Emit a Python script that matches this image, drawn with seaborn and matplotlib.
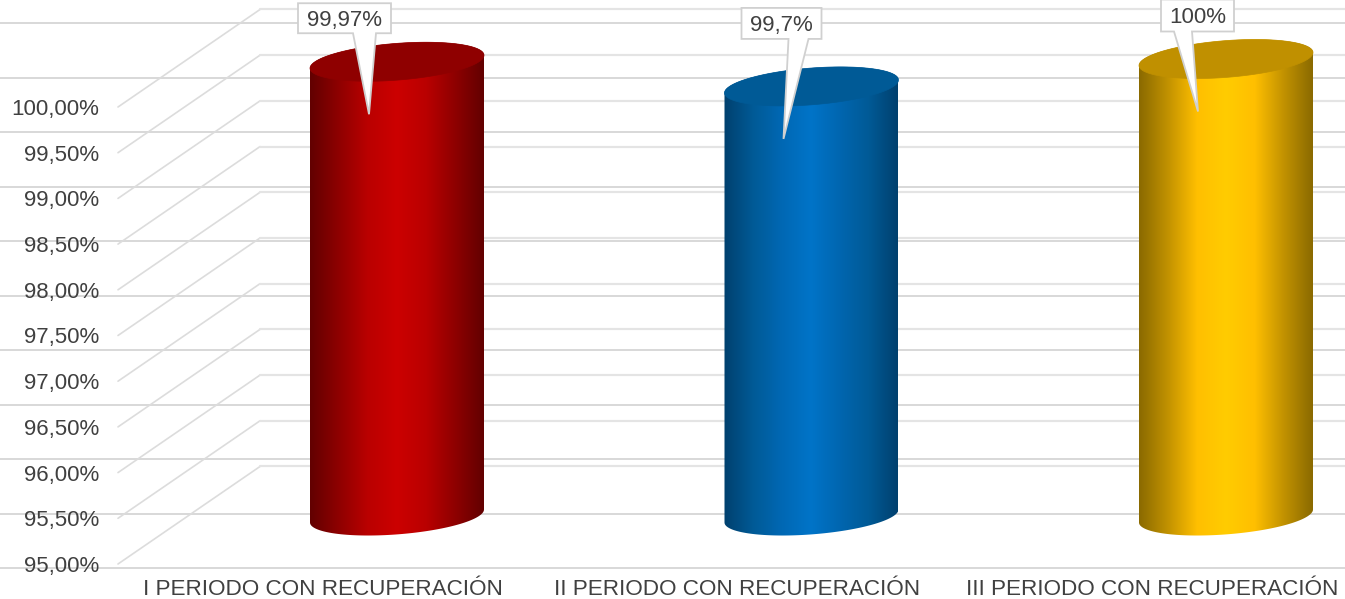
import numpy as np
import pandas as pd
import matplotlib
matplotlib.use("Agg")
import matplotlib.pyplot as plt
from matplotlib.colors import LinearSegmentedColormap
from matplotlib.patches import Polygon
import seaborn as sns

# data
periods = ["I PERIODO CON RECUPERACIÓN", "II PERIODO CON RECUPERACIÓN", "III PERIODO CON RECUPERACIÓN"]
recovery = [99.97, 99.7, 100.0]
callouts = ["99,97%", "99,7%", "100%"]
y_ticks = [95.0, 95.5, 96.0, 96.5, 97.0, 97.5, 98.0, 98.5, 99.0, 99.5, 100.0]
y_labels = ["95,00%", "95,50%", "96,00%", "96,50%", "97,00%", "97,50%", "98,00%", "98,50%", "99,00%", "99,50%", "100,00%"]

# side shading of each cylinder, then the colour of its top
red_shades = ["#620000", "#8f0000", "#ba0000", "#cc0000", "#ba0000", "#8f0000", "#620000"]
blue_shades = ["#00406e", "#005a96", "#0068b4", "#0074c8", "#0066b0", "#005a96", "#00406e"]
gold_shades = ["#8a6a00", "#c29200", "#ffbf00", "#ffcc00", "#ffbf00", "#c29200", "#8a6a00"]
top_colors = ["#8f0000", "#005a96", "#c09000"]

# callout shapes in pixels around the tip: box left, right, bottom, top, tail left, tail right
callout_boxes = [(-71, 22, 81, 111, -16, 7), (-42, 38, 100, 131, 5, 25), (-37, 36, 80, 112, -24, -6)]

W, H = 1345, 599
CAT_PX = 414.5    # pixels per category
VAL_PX = 91.4     # pixels per percentage point
LEFT, RIGHT, BOTTOM, TOP = 118, 1345, 564, 107
FIRST_CAT = 323
GRID = "#dcdcdc"
TEXT = "#404040"

sns.set_theme(style="white")
plt.rcParams["font.family"] = ["Liberation Sans", "DejaVu Sans"]

fig = plt.figure(figsize=(W / 100, H / 100), dpi=100)

# flat horizontal lines that run across the whole picture
ax_lines = fig.add_axes([0, (H - 568) / H, 1, (568 - 23) / H])
ax_lines.set_ylim(95, 100)
ax_lines.set_yticks(y_ticks)
ax_lines.set_xticks([])
ax_lines.set_yticklabels([])
ax_lines.grid(axis="y", color="#d6d6d6", lw=1.3, clip_on=False)
for line in ax_lines.get_ygridlines():
    line.set_clip_on(False)
ax_lines.tick_params(length=0)
sns.despine(ax=ax_lines, left=True, bottom=True)

# main axes, front plane of the 3d box
ax = fig.add_axes([LEFT / W, (H - BOTTOM) / H, (RIGHT - LEFT) / W, (BOTTOM - TOP) / H])
ax.patch.set_alpha(0)
df = pd.DataFrame({"period": periods, "recovery": recovery})
sns.barplot(data=df, x="period", y="recovery", hue="period", palette=[s[3] for s in (red_shades, blue_shades, gold_shades)],
            width=174 / CAT_PX, legend=False, ax=ax)
x_lim = ((LEFT - FIRST_CAT) / CAT_PX, (RIGHT - FIRST_CAT) / CAT_PX)
ax.set_xlim(x_lim)
ax.set_ylim(95, 100)
ax.set_xlabel("")
ax.set_ylabel("")

# back wall and floor
depth_x = 142 / CAT_PX
depth_y = 97.5 / VAL_PX
for v in y_ticks:
    ax.plot([x_lim[0], x_lim[0] + depth_x], [v, v + depth_y], color=GRID, lw=1.2, clip_on=False, zorder=1)
    ax.plot([x_lim[0] + depth_x, x_lim[1]], [v + depth_y, v + depth_y], color="#e4e4e4", lw=1.6, clip_on=False, zorder=1)

# cylinders, placed from the bars seaborn drew
shift_x = 74 / CAT_PX
shift_y = 48 / VAL_PX
slant = 6.5 / VAL_PX
half_h = 18.4 / VAL_PX
for bar, value, shades, top in zip(list(ax.patches), recovery, [red_shades, blue_shades, gold_shades], top_colors):
    bar.set_visible(False)
    a = bar.get_width() / 2
    cx = bar.get_x() + a + shift_x
    base = 95 + shift_y
    head = bar.get_height() + shift_y

    low = np.linspace(np.pi, 2 * np.pi, 80)
    high = np.linspace(0, np.pi, 80)
    body = np.vstack([
        np.column_stack([cx + a * np.cos(low), base + slant * np.cos(low) + half_h * np.sin(low)]),
        np.column_stack([cx + a * np.cos(high), head + slant * np.cos(high) + half_h * np.sin(high)]),
    ])
    side = Polygon(body, closed=True, transform=ax.transData, fc="none", ec="none")
    cmap = LinearSegmentedColormap.from_list("side", shades)
    im = ax.imshow(np.linspace(0, 1, 256).reshape(1, -1), cmap=cmap, aspect="auto",
                   extent=(cx - a, cx + a, base - 1, head + 1), zorder=3, interpolation="bilinear")
    im.set_clip_box(fig.bbox)
    im.set_clip_path(side)

    t = np.linspace(0, 2 * np.pi, 160)
    cap = np.column_stack([cx + a * np.cos(t), head + slant * np.cos(t) + half_h * np.sin(t)])
    ax.add_patch(Polygon(cap, closed=True, fc=top, ec=top, lw=0.5, clip_on=False, zorder=4))

# callouts
px_x, px_y = 1 / CAT_PX, 1 / VAL_PX
for i, (value, label, box) in enumerate(zip(recovery, callouts, callout_boxes)):
    left, right, low, high, tail_l, tail_r = box
    tip_x = i + 46 * px_x
    tip_y = value - 4.5 * px_y
    pts = [(0, 0), (tail_r, low), (right, low), (right, high), (left, high), (left, low), (tail_l, low)]
    shape = [(tip_x + px * px_x, tip_y + py * px_y) for px, py in pts]
    ax.add_patch(Polygon(shape, closed=True, fc="white", ec="#d0d0d0", lw=1.3, clip_on=False, zorder=5, joinstyle="miter"))
    ax.text(tip_x + (left + right) / 2 * px_x, tip_y + (low + high) / 2 * px_y, label, ha="center", va="center_baseline",
            fontsize=16, color=TEXT, clip_on=False, zorder=6)

ax.set_yticks(y_ticks)
ax.set_yticklabels(y_labels)
ax.tick_params(axis="y", length=0, pad=13.3, labelsize=16, labelcolor=TEXT)
ax.tick_params(axis="x", length=0, pad=11, labelsize=16.2, labelcolor=TEXT)
ax.set_xlim(x_lim)
ax.set_ylim(95, 100)
sns.despine(ax=ax, left=True, bottom=True)

fig.savefig("out.png", dpi=100)
